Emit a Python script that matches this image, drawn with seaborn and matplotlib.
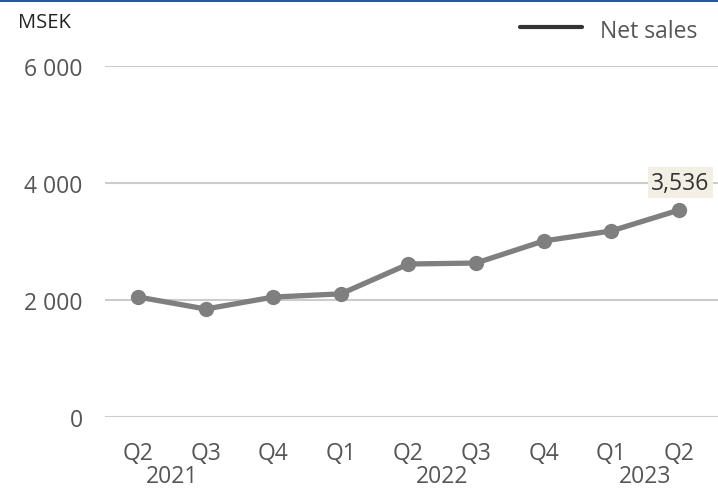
import matplotlib
matplotlib.use("Agg")
import matplotlib.pyplot as plt
import matplotlib.transforms as mtransforms
import seaborn as sns
import pandas as pd

quarters = ["Q2", "Q3", "Q4", "Q1", "Q2", "Q3", "Q4", "Q1", "Q2"]
years = ["2021", "2022", "2023"]
year_pos = [0.5, 4.5, 7.5]
net_sales = [2051, 1846, 2050, 2105, 2615, 2632, 3009, 3180, 3536]
yticks = [0, 2000, 4000, 6000]
ytick_labels = ["0", "2 000", "4 000", "6 000"]

sns.set_theme(style="white")
plt.rcParams["font.family"] = ["Open Sans", "DejaVu Sans"]

df = pd.DataFrame({"x": range(len(net_sales)), "value": net_sales})

fig = plt.figure(figsize=(7.18, 4.89), dpi=100)
ax = fig.add_axes([105 / 718, (489 - 418) / 489, 1 - 105 / 718, (418 - 67) / 489])

sns.lineplot(data=df, x="x", y="value", ax=ax, color="#7f7f7f", linewidth=3.8,
             marker="o", markersize=11, markeredgewidth=0, legend=False, zorder=3)

ax.set_ylim(0, 6000)
ax.set_xlim(-0.49, 8.58)
ax.set_yticks(yticks)
ax.set_yticklabels(ytick_labels, fontsize=16.5, color="#555555")
ax.set_xticks(range(len(quarters)))
ax.set_xticklabels(quarters, fontsize=16.5, color="#555555")
ax.tick_params(axis="y", length=0, pad=16)
ax.tick_params(axis="x", length=0, pad=17)
ax.set_xlabel("")
ax.set_ylabel("")
for s in ax.spines.values():
    s.set_visible(False)
ax.grid(axis="y", color="#cccccc", linewidth=1.5)
ax.grid(axis="x", visible=False)
ax.set_axisbelow(True)

trans = mtransforms.blended_transform_factory(ax.transData, fig.transFigure)
for yr, xp in zip(years, year_pos):
    ax.text(xp, 1 - 483 / 489, yr, transform=trans, ha="center", va="baseline",
            fontsize=16.5, color="#555555")

last = len(net_sales) - 1
ax.annotate(f"{net_sales[-1]:,}", xy=(last, net_sales[-1]), xytext=(1, 11),
            textcoords="offset points", ha="center", va="bottom", fontsize=16.5,
            color="#333333",
            bbox=dict(boxstyle="square,pad=0.15", fc="#f3efe4", ec="none"))

fig.text(18 / 718, 1 - 28 / 489, "MSEK", fontsize=14.5, color="#222222", va="baseline")
fig.add_artist(plt.Line2D([520 / 718, 582 / 718], [1 - 28 / 489, 1 - 28 / 489],
                          color="#333333", linewidth=3, transform=fig.transFigure))
fig.text(600 / 718, 1 - 38 / 489, "Net sales", fontsize=16.5, color="#555555", va="baseline")

fig.add_artist(plt.Rectangle((0, 1 - 3 / 489), 1, 3 / 489, color="#2a56a5",
                             transform=fig.transFigure, lw=0))

fig.savefig("out.png", dpi=100)
